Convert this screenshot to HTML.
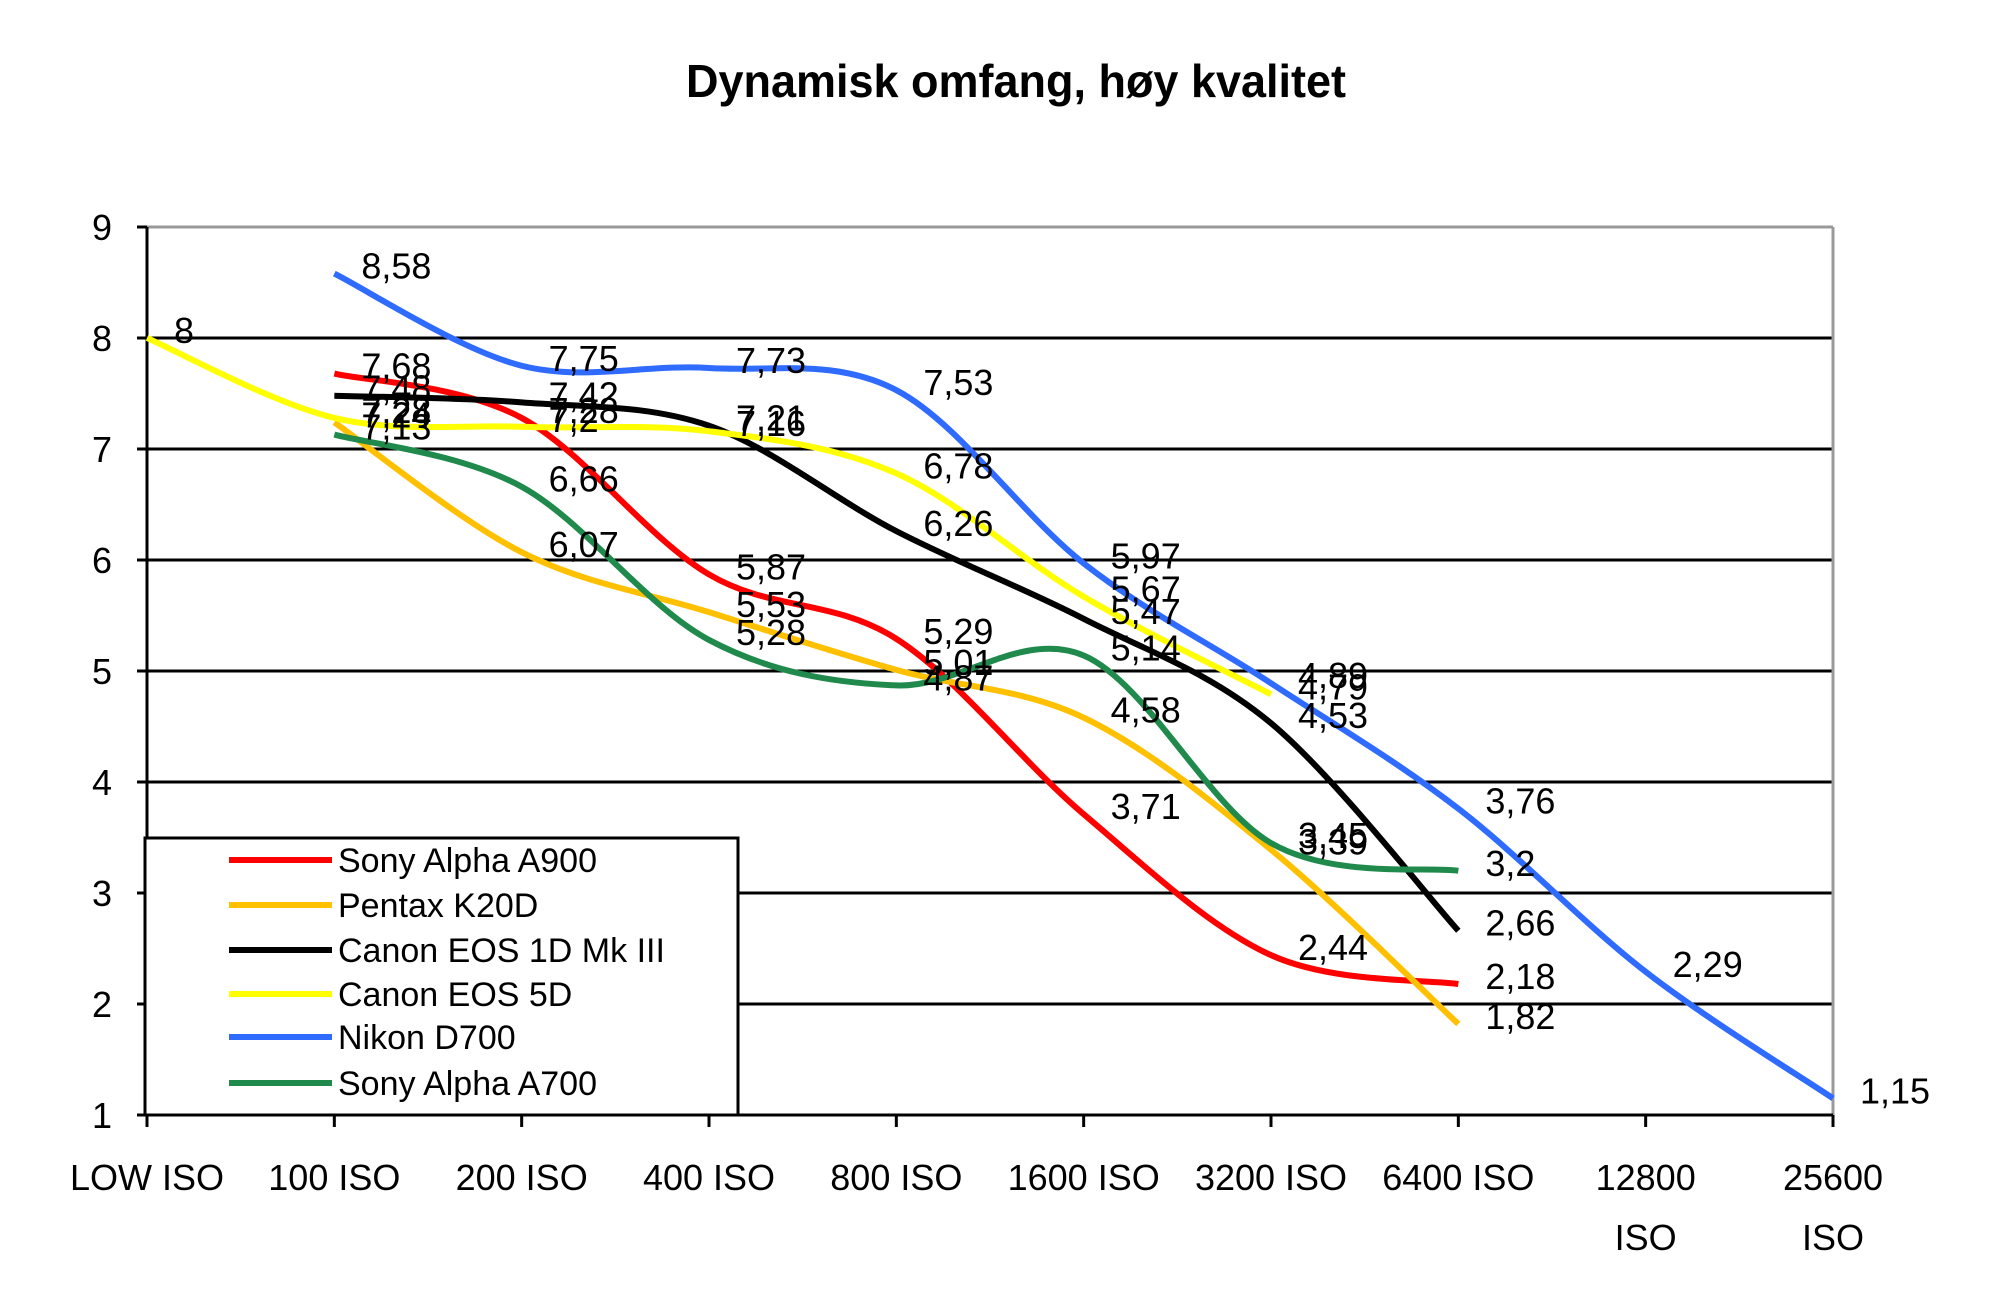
<!DOCTYPE html>
<html><head><meta charset="utf-8"><style>
html,body{margin:0;padding:0;background:#fff;}
svg text{font-family:"Liberation Sans",Arial,sans-serif;fill:#000;}
</style></head><body>
<svg id="chart" xmlns="http://www.w3.org/2000/svg" width="2000" height="1299" viewBox="0 0 2000 1299">
<rect width="2000" height="1299" fill="#fff"/>
<text x="1016" y="97" font-size="46" font-weight="bold" text-anchor="middle" textLength="660" lengthAdjust="spacingAndGlyphs">Dynamisk omfang, høy kvalitet</text>
<g id="grid"></g><g id="axes"></g><g id="series"></g><g id="labels"></g><g id="legend"></g>
</svg>
<script>
const categories = ["LOW ISO","100 ISO","200 ISO","400 ISO","800 ISO","1600 ISO","3200 ISO","6400 ISO","12800 ISO","25600 ISO"];
const yTicks = [1,2,3,4,5,6,7,8,9];
const seriesNames = ["Sony Alpha A900","Pentax K20D","Canon EOS 1D Mk III","Canon EOS 5D","Nikon D700","Sony Alpha A700"];
const seriesColors = ["#ff0000","#ffc000","#000000","#ffff00","#2f6bff","#1f8a4c"];
const sonyA900 = [null,7.68,7.28,5.87,5.29,3.71,2.44,2.18,null,null];
const pentaxK20D = [null,7.24,6.07,5.53,5.01,4.58,3.39,1.82,null,null];
const canon1D = [null,7.48,7.42,7.21,6.26,5.47,4.53,2.66,null,null];
const canon5D = [8,7.28,7.2,7.16,6.78,5.67,4.79,null,null,null];
const nikonD700 = [null,8.58,7.75,7.73,7.53,5.97,4.89,3.76,2.29,1.15];
const sonyA700 = [null,7.13,6.66,5.28,4.87,5.14,3.45,3.2,null,null];
const seriesValues = [sonyA900,pentaxK20D,canon1D,canon5D,nikonD700,sonyA700];

const NS="http://www.w3.org/2000/svg";
const L=147,R=1833,T=227,B=1115;
function xPos(i){return L+i*(R-L)/(categories.length-1);}
function yPos(v){return B-(v-yTicks[0])*(B-T)/(yTicks[yTicks.length-1]-yTicks[0]);}
function mk(tag,attrs,parent){const e=document.createElementNS(NS,tag);for(const k in attrs)e.setAttribute(k,attrs[k]);parent.appendChild(e);return e;}
const grid=document.getElementById('grid'),axes=document.getElementById('axes'),ser=document.getElementById('series'),lab=document.getElementById('labels'),leg=document.getElementById('legend');
const fmt=v=>String(v).replace('.',',');

yTicks.forEach(v=>{
  const y=yPos(v);
  if(v>yTicks[0]){
    const g=mk('line',{x1:L,x2:R,y1:y,y2:y,stroke:v===9?'#999':'#000','stroke-width':3},grid);
    
    
  }
  const tk=mk('line',{x1:L-10,x2:L,y1:y,y2:y,stroke:'#000','stroke-width':3},axes);
  
  
  const t=mk('text',{x:112,y:y+13,'font-size':36,'text-anchor':'end'},axes);
  t.textContent=v;
  
  
});
const rb=mk('line',{x1:R,x2:R,y1:T,y2:B,stroke:'#999','stroke-width':3},grid);


const ya=mk('line',{x1:L,x2:L,y1:T,y2:B,stroke:'#000','stroke-width':3},axes);


const xa=mk('line',{x1:L-10,x2:R,y1:B,y2:B,stroke:'#000','stroke-width':3},axes);


categories.forEach((c,i)=>{
  const x=xPos(i);
  const tk=mk('line',{x1:x,x2:x,y1:B,y2:B+12,stroke:'#000','stroke-width':3},axes);
  
  
  const t=mk('text',{x:x,y:1190,'font-size':36,'text-anchor':'middle'},axes);
  
  
  const parts=c.split(' ');
  if(i>=8){
    const a=mk('tspan',{x:x,y:1190},t);a.textContent=parts[0];
    const b=mk('tspan',{x:x,y:1250},t);b.textContent=parts[1];
  } else t.textContent=c;
});

function smoothPath(pts){
  let d='M'+pts[0][0]+','+pts[0][1];
  for(let i=0;i<pts.length-1;i++){
    const p0=pts[i-1]||pts[i],p1=pts[i],p2=pts[i+1],p3=pts[i+2]||p2;
    const c1=[p1[0]+(p2[0]-p0[0])/6,p1[1]+(p2[1]-p0[1])/6];
    const c2=[p2[0]-(p3[0]-p1[0])/6,p2[1]-(p3[1]-p1[1])/6];
    d+=' C'+c1[0]+','+c1[1]+' '+c2[0]+','+c2[1]+' '+p2[0]+','+p2[1];
  }
  return d;
}
seriesValues.forEach((vals,s)=>{
  const pts=[];
  vals.forEach((v,i)=>{if(v!==null)pts.push([xPos(i),yPos(v)]);});
  const p=mk('path',{d:smoothPath(pts),fill:'none',stroke:seriesColors[s],'stroke-width':6,'stroke-linejoin':'round'},ser);
  
  
  vals.forEach((v,i)=>{
    if(v===null)return;
    const t=mk('text',{x:xPos(i)+27,y:yPos(v)+5,'font-size':36},lab);
    t.textContent=fmt(v);
    
    
  });
});

const lb=mk('rect',{x:145,y:838,width:593,height:277,fill:'#fff',stroke:'#000','stroke-width':3},leg);


const legY=[860,905,950,994,1037,1083];
seriesNames.forEach((n,s)=>{
  const g=mk('g',{},leg);
  
  
  mk('line',{x1:229,x2:332,y1:legY[s],y2:legY[s],stroke:seriesColors[s],'stroke-width':6},g);
  const t=mk('text',{x:338,y:legY[s]+12,'font-size':34},g);
  t.textContent=n;
});
</script>
</body></html>
